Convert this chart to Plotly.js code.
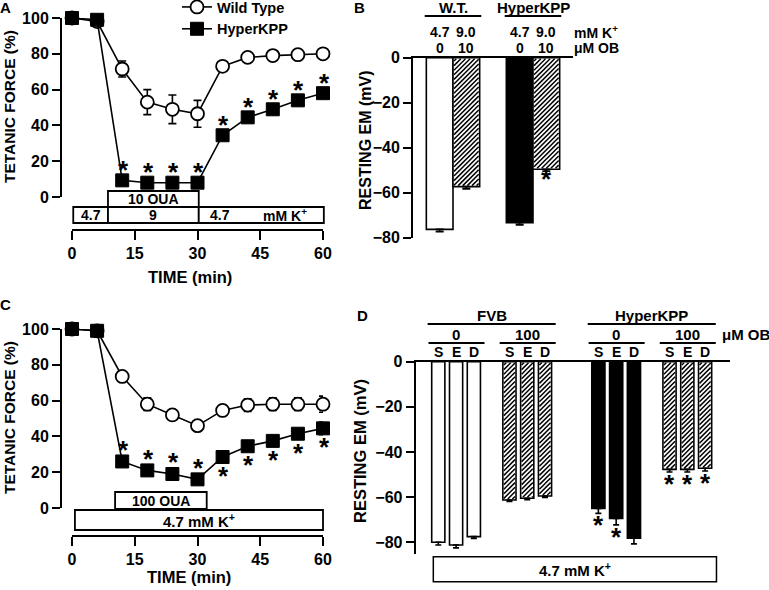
<!DOCTYPE html>
<html><head><meta charset="utf-8">
<script src="https://cdn.plot.ly/plotly-3.0.1.min.js"></script>
<style>html,body{margin:0;padding:0;background:#fff}#chart{width:769px;height:590px}</style>
</head><body><div id="chart"></div>
<script>
// ================= DATA =================
const TIME = [0, 6, 12, 18, 24, 30, 36, 42, 48, 54, 60];
const TIME_TICKS = [0, 15, 30, 45, 60];
const FORCE_TICKS = [0, 20, 40, 60, 80, 100];
const EM_TICKS = [0, -20, -40, -60, -80];

// Panel A (10 µM ouabain, 9 mM K+)
const A_WT      = [100, 98, 71.5, 53, 49, 46.5, 73, 78, 79, 79.5, 80];
const A_WT_ERR  = [0.5, 1, 4.5, 7, 8, 7.5, 1.5, 1.5, 1.5, 1.5, 1.5];
const A_HK      = [100, 99, 9.3, 8, 8, 8, 34.5, 44.5, 49, 54, 58];
const A_HK_ERR  = [0.5, 1, 1, 1, 1, 1, 1.5, 2, 1.5, 1.5, 2];
const A_SIG     = [0, 0, 1, 1, 1, 1, 1, 1, 1, 1, 1];
const A_OUA     = [8.6, 30.3];
const A_OUA_LABEL = '10 OUA';
const A_K_EDGES = [0.3, 8.6, 30.3, 60.2];
const A_K_LABELS = ['4.7', '9', '4.7'];
const K_UNIT = 'mM K<sup>+</sup>';

// Panel C (100 µM ouabain, 4.7 mM K+)
const C_WT      = [100, 99, 73.5, 58, 52, 46, 54.5, 57.5, 58, 58, 58];
const C_WT_ERR  = [0.5, 1, 1.5, 3.5, 1.5, 1.5, 3, 3.5, 3.5, 3.5, 4.5];
const C_HK      = [100, 99, 26, 21, 19, 16, 28.5, 34.5, 37.5, 41.5, 44.5];
const C_HK_ERR  = [0.5, 1, 1.5, 1.5, 1.5, 1.5, 2, 2, 2, 2, 3.5];
const C_SIG     = [0, 0, 1, 1, 1, 1, 1, 1, 1, 1, 1];
const C_OUA     = [10.3, 32.2];
const C_OUA_LABEL = '100 OUA';
const C_K       = [0.7, 60];
const C_K_LABEL = '4.7 mM K<sup>+</sup>';

// Panel B
const B_STRAINS = ['W.T.', 'HyperKPP'];
const B_K       = ['4.7', '9.0', '4.7', '9.0'];
const B_OB      = ['0', '10', '0', '10'];
const B_VAL     = [-76.3, -57.3, -73.3, -49.6];
const B_ERR     = [1, 1, 1, 0.8];
const B_SIG     = [0, 0, 0, 1];

// Panel D
const D_STRAINS = ['FVB', 'HyperKPP'];
const D_OB      = ['0', '100'];
const D_REGIONS = ['S', 'E', 'D'];
const D_VAL     = [-80, -81.2, -77.5, -61.3, -60.5, -59.5, -65, -69.5, -78.2, -47.7, -47.7, -47.2];
const D_ERR     = [1.2, 1.3, 0.8, 0.6, 0.6, 0.7, 2.2, 2.8, 2.5, 1.2, 1.2, 1.2];
const D_SIG     = [0, 0, 0, 0, 0, 0, 1, 1, 0, 1, 1, 1];
const D_K_LABEL = '4.7 mM K<sup>+</sup>';

// ================= STYLE / LAYOUT HELPERS =================
const W = 769, H = 590;
const PX = p => p / W;
const PY = p => 1 - p / H;
const FAM = 'Liberation Sans, Arial, Helvetica, sans-serif';
const F = s => ({family: FAM, size: s, color: '#000', weight: 'bold'});
const BLACK = '#000', WHITE = '#fff';
const STAR_SIZE = 26;

// panel frames (pixel extents) and ranges
const FR = {
  A: {x: [72, 323], y: [197, 18], xr: [0, 60], yr: [0, 100]},
  C: {x: [72, 323], y: [508, 329], xr: [0, 60], yr: [0, 100]},
  B: {x: [413, 573], y: [237.7, 57.7], xr: [-1, 5], yr: [-80, 0]},
  D: {x: [415.7, 730], y: [554, 361.7], xr: [-1.27, 16.4], yr: [-85.2, 0]}
};
const domX = fr => [PX(fr.x[0]), PX(fr.x[1])];
const domY = fr => [PY(fr.y[0]), PY(fr.y[1])];

const annotations = [];
const shapes = [];
function txt(text, xref, x, yref, y, size, extra) {
  annotations.push(Object.assign({text, xref, x, yref, y, showarrow: false,
    font: F(size), xanchor: 'center', yanchor: 'middle'}, extra || {}));
}
function hline(xref, x0, x1, yref, y) {
  shapes.push({type: 'line', xref, yref, x0, x1, y0: y, y1: y,
    line: {color: BLACK, width: 1.8}});
}

const tickCommon = {ticks: 'outside', ticklen: 8, tickwidth: 2, tickcolor: BLACK,
  showline: true, linewidth: 2, linecolor: BLACK, showgrid: false, zeroline: false,
  tickfont: F(16), fixedrange: true};

const dom = v => (v - FR.A.xr[0]) / (FR.A.xr[1] - FR.A.xr[0]);

// ================= TRACES =================
const traces = [];
function timePanel(xa, ya, wt, wtErr, hk, hkErr, legend) {
  traces.push({x: TIME, y: wt, type: 'scatter', mode: 'lines+markers', name: 'Wild Type',
    xaxis: xa, yaxis: ya, showlegend: legend, cliponaxis: false,
    line: {color: BLACK, width: 1.6},
    marker: {symbol: 'circle', size: 13, color: WHITE, line: {color: BLACK, width: 1.8}},
    error_y: {type: 'data', array: wtErr, color: BLACK, thickness: 1.6, width: 4}});
  traces.push({x: TIME, y: hk, type: 'scatter', mode: 'lines+markers', name: 'HyperKPP',
    xaxis: xa, yaxis: ya, showlegend: legend, cliponaxis: false,
    line: {color: BLACK, width: 1.6},
    marker: {symbol: 'square', size: 13, color: BLACK, line: {color: BLACK, width: 1}},
    error_y: {type: 'data', array: hkErr, color: BLACK, thickness: 1.6, width: 4}});
}
timePanel('x', 'y', A_WT, A_WT_ERR, A_HK, A_HK_ERR, true);
timePanel('x3', 'y3', C_WT, C_WT_ERR, C_HK, C_HK_ERR, false);

// stars (above the point during ouabain, below it during wash-out in C)
const STAR_UP = 10.5, STAR_UP_C = 11.5, STAR_DOWN = -19;
TIME.forEach((t, i) => {
  if (A_SIG[i]) txt('*', 'x', t, 'y', A_HK[i], STAR_SIZE, {yshift: STAR_UP, xshift: 1});
  if (C_SIG[i]) {
    const below = t > C_OUA[1];
    txt('*', 'x3', t, 'y3', C_HK[i], STAR_SIZE, {yshift: below ? STAR_DOWN : STAR_UP_C, xshift: 1});
  }
});

function fillFor(strainIdx, obIdx) {
  if (obIdx > 0) return {c: WHITE, hatch: true};
  return strainIdx === 0 ? {c: WHITE, hatch: false} : {c: BLACK, hatch: false};
}

// diagonal "/" hatching for bars, built from each bar's x, width and value
function hatchTrace(xs, vals, flags, w, fr, xa, ya) {
  const ppx = (fr.x[1] - fr.x[0]) / (fr.xr[1] - fr.xr[0]);
  const ppy = (fr.y[0] - fr.y[1]) / (fr.yr[1] - fr.yr[0]);
  const step = 4.6, inset = 1;
  const hx = [], hy = [];
  xs.forEach((x, i) => {
    if (!flags[i]) return;
    const left = x - w / 2, bottom = vals[i];
    const Wp = w * ppx - 2 * inset, Hp = Math.abs(vals[i]) * ppy - 2 * inset;
    for (let k = -Hp + step / 2; k < Wp; k += step) {
      const u0 = Math.max(0, k), u1 = Math.min(Wp, Hp + k);
      if (u1 <= u0) continue;
      hx.push(left + (u0 + inset) / ppx, left + (u1 + inset) / ppx, null);
      hy.push(bottom + (u0 - k + inset) / ppy, bottom + (u1 - k + inset) / ppy, null);
    }
  });
  return {type: 'scatter', mode: 'lines', x: hx, y: hy, xaxis: xa, yaxis: ya,
    showlegend: false, hoverinfo: 'skip', line: {color: BLACK, width: 1.5}};
}

// Panel B bars
const B_X = [], B_COL = [], B_H = [];
B_VAL.forEach((v, i) => {
  const s = Math.floor(i / 2), o = i % 2;
  B_X.push(s * 3 + o);
  const fl = fillFor(s, o); B_COL.push(fl.c); B_H.push(fl.hatch);
});
const B_W = 1;
traces.push({type: 'bar', x: B_X, y: B_VAL, width: B_W, xaxis: 'x2', yaxis: 'y2', showlegend: false,
  marker: {color: B_COL, line: {color: BLACK, width: 1.6}},
  error_y: {type: 'data', symmetric: false, array: B_VAL.map(() => 0), arrayminus: B_ERR,
    color: BLACK, thickness: 1.6, width: 4}});
traces.push(hatchTrace(B_X, B_VAL, B_H, B_W, FR.B, 'x2', 'y2'));

// Panel D bars
const D_X = [], D_COL = [], D_H = [];
D_VAL.forEach((v, i) => {
  const s = Math.floor(i / 6), o = Math.floor(i / 3) % 2, r = i % 3;
  D_X.push(s * 9 + o * 4 + r);
  const fl = fillFor(s, o); D_COL.push(fl.c); D_H.push(fl.hatch);
});
const D_W = 0.74;
traces.push({type: 'bar', x: D_X, y: D_VAL, width: D_W, xaxis: 'x4', yaxis: 'y4', showlegend: false,
  marker: {color: D_COL, line: {color: BLACK, width: 1.6}},
  error_y: {type: 'data', symmetric: false, array: D_VAL.map(() => 0), arrayminus: D_ERR,
    color: BLACK, thickness: 1.6, width: 3}});
traces.push(hatchTrace(D_X, D_VAL, D_H, D_W, FR.D, 'x4', 'y4'));

// ================= panel A/C condition boxes =================
shapes.push({type: 'rect', xref: 'x domain', yref: 'paper', x0: dom(A_OUA[0]), x1: dom(A_OUA[1]),
  y0: PY(207), y1: PY(191), line: {color: BLACK, width: 1.8}, fillcolor: WHITE});
txt(A_OUA_LABEL, 'x', (A_OUA[0] + A_OUA[1]) / 2, 'paper', PY(199.5), 14);
for (let i = 0; i < A_K_LABELS.length; i++) {
  shapes.push({type: 'rect', xref: 'x domain', yref: 'paper', x0: dom(A_K_EDGES[i]), x1: dom(A_K_EDGES[i + 1]),
    y0: PY(223), y1: PY(207), line: {color: BLACK, width: 1.8}, fillcolor: WHITE});
}
txt(A_K_LABELS[0], 'x', (A_K_EDGES[0] + A_K_EDGES[1]) / 2, 'paper', PY(215), 14);
txt(A_K_LABELS[1], 'x', (A_K_EDGES[1] + A_K_EDGES[2]) / 2, 'paper', PY(215), 14);
txt(A_K_LABELS[2], 'x', A_K_EDGES[2] + 5, 'paper', PY(215), 14);
txt(K_UNIT, 'x', A_K_EDGES[3] - 9.3, 'paper', PY(215), 14);

shapes.push({type: 'rect', xref: 'x3 domain', yref: 'paper', x0: dom(C_OUA[0]), x1: dom(C_OUA[1]),
  y0: PY(509), y1: PY(492), line: {color: BLACK, width: 1.8}, fillcolor: WHITE});
txt(C_OUA_LABEL, 'x3', (C_OUA[0] + C_OUA[1]) / 2, 'paper', PY(500.5), 14);
shapes.push({type: 'rect', xref: 'x3 domain', yref: 'paper', x0: dom(C_K[0]), x1: dom(C_K[1]),
  y0: PY(530), y1: PY(510), line: {color: BLACK, width: 1.8}, fillcolor: WHITE});
txt(C_K_LABEL, 'x3', (C_K[0] + C_K[1]) / 2, 'paper', PY(520), 15);

// ================= Panel B labels =================
B_STRAINS.forEach((s, g) => {
  const a = g * 3, b = g * 3 + 1;
  txt(s, 'x2', (a + b) / 2, 'paper', PY(7.5), 15);
  hline('x2', a - 0.56, b + 0.56, 'paper', PY(16));
});
B_X.forEach((x, i) => {
  txt(B_K[i], 'x2', x, 'paper', PY(32), 14);
  txt(B_OB[i], 'x2', x, 'paper', PY(48), 14);
  if (B_SIG[i]) txt('*', 'x2', x, 'y2', B_VAL[i], STAR_SIZE, {yshift: -10});
});
txt('mM K<sup>+</sup>', 'paper', PX(572), 'paper', PY(32), 14, {xanchor: 'left'});
txt('μM OB', 'paper', PX(572), 'paper', PY(48), 14, {xanchor: 'left'});

// ================= Panel D labels =================
D_STRAINS.forEach((s, si) => {
  const first = si * 9, last = si * 9 + 6;
  txt(s, 'x4', (first + last) / 2, 'paper', PY(315), 15);
  hline('x4', first - 0.6, last + 0.6, 'paper', PY(324));
  D_OB.forEach((o, oi) => {
    const f0 = si * 9 + oi * 4, f1 = f0 + 2;
    txt(o, 'x4', (f0 + f1) / 2, 'paper', PY(334), 15);
    hline('x4', f0 - 0.55, f1 + 0.6, 'paper', PY(343));
  });
});
D_X.forEach((x, i) => {
  txt(D_REGIONS[i % 3], 'x4', x, 'paper', PY(352), 14);
  if (D_SIG[i]) txt('*', 'x4', x, 'y4', D_VAL[i] - D_ERR[i], STAR_SIZE, {yshift: -12});
});
txt('μM OB', 'paper', PX(720), 'paper', PY(334), 15, {xanchor: 'left'});
shapes.push({type: 'rect', xref: 'x4', yref: 'paper', x0: -0.28, x1: 15.64,
  y0: PY(581.7), y1: PY(556.7), line: {color: BLACK, width: 1.5}, fillcolor: WHITE});
txt(D_K_LABEL, 'x4', 7.68, 'paper', PY(569), 15);

// ================= axis titles & panel letters =================
txt('TETANIC FORCE (%)', 'paper', PX(9), 'paper', PY(107), 15.5, {textangle: -90});
txt('TETANIC FORCE (%)', 'paper', PX(9), 'paper', PY(418), 15.5, {textangle: -90});
txt('TIME (min)', 'paper', PX(190), 'paper', PY(277), 16.5);
txt('TIME (min)', 'paper', PX(189), 'paper', PY(577), 16.5);
txt('RESTING EM (mV)', 'paper', PX(365), 'paper', PY(140), 16, {textangle: -90});
txt('RESTING EM (mV)', 'paper', PX(360), 'paper', PY(451), 16.5, {textangle: -90});
txt('A', 'paper', PX(5), 'paper', PY(7), 15);
txt('B', 'paper', PX(359), 'paper', PY(7), 15);
txt('C', 'paper', PX(5), 'paper', PY(304), 15);
txt('D', 'paper', PX(362), 'paper', PY(315), 15);

// ================= LAYOUT =================
const layout = {
  width: W, height: H, margin: {l: 0, r: 0, t: 0, b: 0, autoexpand: false},
  paper_bgcolor: WHITE, plot_bgcolor: 'rgba(0,0,0,0)',
  font: F(14),
  showlegend: true,
  legend: {x: PX(177), y: PY(-9), xanchor: 'left', yanchor: 'top', font: F(14.5),
    bgcolor: 'rgba(0,0,0,0)', tracegroupgap: 0, itemwidth: 30},
  bargap: 0,
  xaxis: Object.assign({}, tickCommon, {domain: domX(FR.A), range: FR.A.xr,
    anchor: 'free', position: PY(230), tickvals: TIME_TICKS, ticklen: 9}),
  yaxis: Object.assign({}, tickCommon, {domain: domY(FR.A), range: FR.A.yr,
    anchor: 'free', position: PX(61), tickvals: FORCE_TICKS}),
  xaxis3: Object.assign({}, tickCommon, {domain: domX(FR.C), range: FR.C.xr,
    anchor: 'free', position: PY(536), tickvals: TIME_TICKS, ticklen: 9}),
  yaxis3: Object.assign({}, tickCommon, {domain: domY(FR.C), range: FR.C.yr,
    anchor: 'free', position: PX(61), tickvals: FORCE_TICKS}),
  xaxis2: {domain: domX(FR.B), range: FR.B.xr, anchor: 'y2', side: 'top',
    showline: true, linewidth: 2, linecolor: BLACK, ticks: '', showticklabels: false,
    showgrid: false, zeroline: false, fixedrange: true},
  yaxis2: Object.assign({}, tickCommon, {domain: domY(FR.B), range: FR.B.yr,
    anchor: 'x2', tickvals: EM_TICKS}),
  xaxis4: {domain: domX(FR.D), range: FR.D.xr, anchor: 'y4', side: 'top',
    showline: true, linewidth: 2, linecolor: BLACK, ticks: '', showticklabels: false,
    showgrid: false, zeroline: false, fixedrange: true},
  yaxis4: Object.assign({}, tickCommon, {domain: domY(FR.D), range: FR.D.yr,
    anchor: 'x4', tickvals: EM_TICKS}),
  annotations, shapes
};

Plotly.newPlot('chart', traces, layout, {displayModeBar: false, staticPlot: true});
</script>
</body></html>
